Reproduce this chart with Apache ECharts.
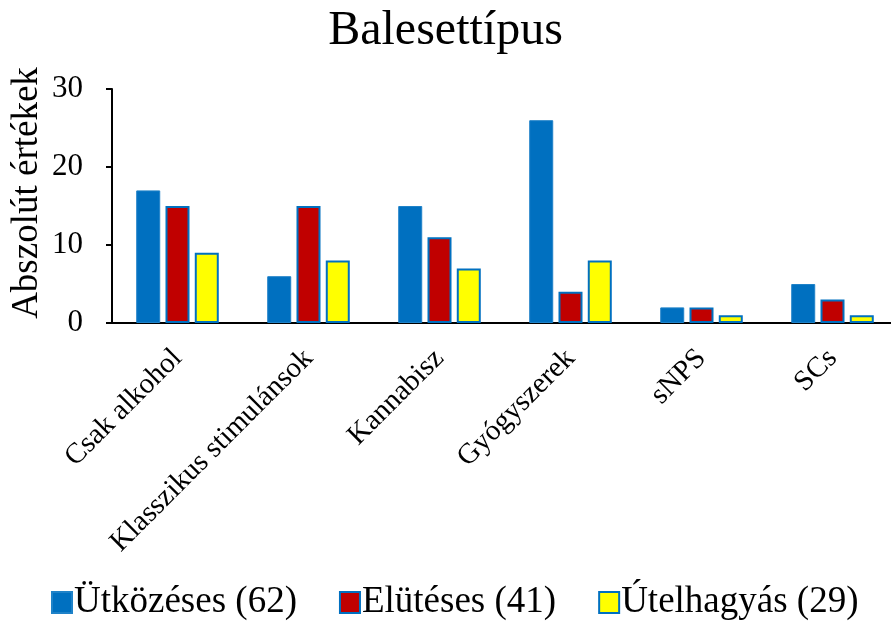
<!DOCTYPE html>
<html>
<head>
<meta charset="utf-8">
<script src="https://cdn.jsdelivr.net/npm/echarts@6/dist/echarts.min.js"></script>
<style>
  html, body { margin: 0; padding: 0; background: #fff; }
  #chart { width: 891px; height: 626px; }
</style>
</head>
<body>
<div id="chart"></div>
<script>
const categories = ['Csak alkohol', 'Klasszikus stimulánsok', 'Kannabisz', 'Gyógyszerek', 'sNPS', 'SCs'];
const utkozeses = [17, 6, 15, 26, 2, 5];
const elutes = [15, 15, 11, 4, 2, 3];
const utelhagyas = [9, 8, 7, 8, 1, 1];
const seriesNames = ['Ütközéses (62)', 'Elütéses (41)', 'Útelhagyás (29)'];

const font = '"Liberation Serif", "Times New Roman", serif';
const chart = echarts.init(document.getElementById('chart'));

const option = {
  animation: false,
  textStyle: { fontFamily: font },
  title: {
    text: 'Balesettípus',
    left: 'center',
    top: 2,
    textStyle: { fontFamily: font, fontSize: 48, fontWeight: 'normal', color: '#000' },
  },
  legend: {
    bottom: 0,
    left: 46,
    icon: 'rect',
    itemWidth: 20,
    itemHeight: 21,
    itemGap: 42,
    textStyle: { fontFamily: font, fontSize: 37, color: '#000', padding: [0, 0, 0, -3] },
    data: seriesNames,
  },
  grid: {
    left: 112,
    top: 89,
    width: 786,
    height: 234,
    containLabel: false,
    outerBoundsMode: 'none',
  },
  xAxis: {
    type: 'category',
    data: categories,
    axisLine: { lineStyle: { color: '#000', width: 2 } },
    axisTick: { show: false },
    axisLabel: {
      rotate: 45,
      interval: 0,
      margin: 31,
      color: '#000',
      fontFamily: font,
      fontSize: 29,
    },
  },
  yAxis: {
    type: 'value',
    min: 0,
    max: 30,
    interval: 10,
    name: 'Abszolút értékek',
    nameLocation: 'middle',
    nameGap: 66,
    nameMoveOverlap: false,
    nameTextStyle: { fontFamily: font, fontSize: 37, color: '#000', padding: [0, 0, 0, 26] },
    axisLine: { show: true, lineStyle: { color: '#000', width: 2 } },
    axisTick: { show: true, length: 6, lineStyle: { color: '#000', width: 2 } },
    splitLine: { show: false },
    axisLabel: { color: '#000', fontFamily: font, fontSize: 31, margin: 29 },
  },
  series: [
    {
      name: seriesNames[0],
      type: 'bar',
      data: utkozeses,
      barWidth: 24,
      barGap: '22%',
      itemStyle: { color: '#0070C0', borderColor: '#1F82C8', borderWidth: 1 },
    },
    {
      name: seriesNames[1],
      type: 'bar',
      data: elutes,
      barWidth: 24,
      itemStyle: { color: '#C00000', borderColor: '#0070C0', borderWidth: 2 },
    },
    {
      name: seriesNames[2],
      type: 'bar',
      data: utelhagyas,
      barWidth: 24,
      itemStyle: { color: '#FFFF00', borderColor: '#0070C0', borderWidth: 2 },
    },
  ],
};

chart.setOption(option);
</script>
</body>
</html>
